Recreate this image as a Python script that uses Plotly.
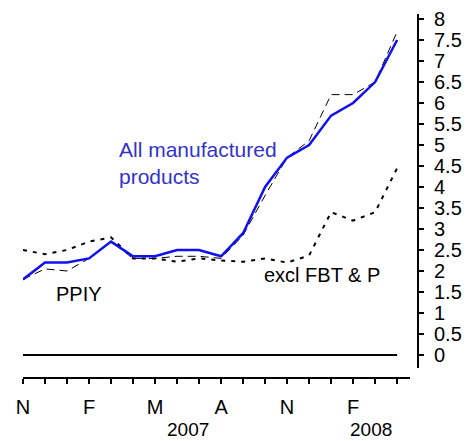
import plotly.graph_objects as go

# months Nov 2006 .. Apr 2008
months = ["N", "D", "J", "F", "M", "A", "M", "J", "J", "A", "S", "O",
          "N", "D", "J", "F", "M", "A"]
all_manufactured = [1.8, 2.2, 2.2, 2.3, 2.7, 2.35, 2.35, 2.5, 2.5, 2.35,
                    2.9, 4.0, 4.7, 5.0, 5.7, 6.0, 6.5, 7.5]
ppiy_alt = [1.8, 2.05, 2.0, 2.3, 2.7, 2.3, 2.3, 2.35, 2.35, 2.3,
            2.85, 3.8, 4.7, 5.1, 6.2, 6.2, 6.5, 7.7]
excl_fbt_p = [2.5, 2.4, 2.5, 2.7, 2.8, 2.3, 2.3, 2.22, 2.3, 2.25,
              2.22, 2.3, 2.2, 2.37, 3.4, 3.2, 3.4, 4.45]
zero_line = [0] * len(months)
years = ["2007", "2008"]
year_pos = [7.5, 15.8]

x = list(range(len(months)))
tick_text = [m if i % 3 == 0 else "" for i, m in enumerate(months)]
FONT = "Arial, Liberation Sans, sans-serif"

fig = go.Figure()
fig.add_trace(go.Scatter(x=x, y=zero_line, mode="lines",
                         line=dict(color="black", width=2)))
fig.add_trace(go.Scatter(x=x, y=excl_fbt_p, mode="lines",
                         line=dict(color="black", width=2, dash="4px,6px")))
fig.add_trace(go.Scatter(x=x, y=ppiy_alt, mode="lines",
                         line=dict(color="black", width=1, dash="8px,5px")))
fig.add_trace(go.Scatter(x=x, y=all_manufactured, mode="lines",
                         line=dict(color="#1010f0", width=2.5)))

annotations = [
    dict(x=4.25, y=4.58, text="All manufactured<br>products", align="left",
         font=dict(size=21, color="#3333cc")),
    dict(x=1.4, y=1.45, text="PPIY", font=dict(size=20, color="black")),
    dict(x=10.85, y=1.9, text="excl FBT &amp; P", font=dict(size=20, color="black")),
]
for a in annotations:
    fig.add_annotation(xref="x", yref="y", xanchor="left", yanchor="middle",
                       showarrow=False, **a)
for yr, pos in zip(years, year_pos):
    fig.add_annotation(x=pos, y=-0.142, xref="x", yref="paper", text=yr,
                       showarrow=False, xanchor="center", yanchor="middle",
                       font=dict(size=19, color="black"))

# page body adds an 8px offset, so the figure is 8px smaller than the window
fig.update_layout(
    width=467, height=433,
    margin=dict(l=15, r=57, t=6, b=63),
    plot_bgcolor="white", paper_bgcolor="white",
    showlegend=False,
    font=dict(family=FONT, color="black"),
    xaxis=dict(domain=[0, 0.98], range=[0, 17.59], anchor="free", position=0,
               tickvals=x, ticktext=tick_text, ticks="outside", ticklen=5,
               tickwidth=2, tickcolor="black", showline=True, linecolor="black",
               linewidth=2, showgrid=False, zeroline=False, automargin=False,
               tickfont=dict(size=20), ticklabelstandoff=6),
    yaxis=dict(domain=[0.0275, 1], range=[-0.31, 8.12], side="right",
               anchor="free", position=1, tick0=0, dtick=0.5,
               ticks="outside", ticklen=5, tickwidth=2, tickcolor="black",
               showline=True, linecolor="black", linewidth=2, showgrid=False,
               zeroline=False, automargin=False, tickfont=dict(size=20),
               ticklabelstandoff=6),
)

fig.write_html("out.html")
